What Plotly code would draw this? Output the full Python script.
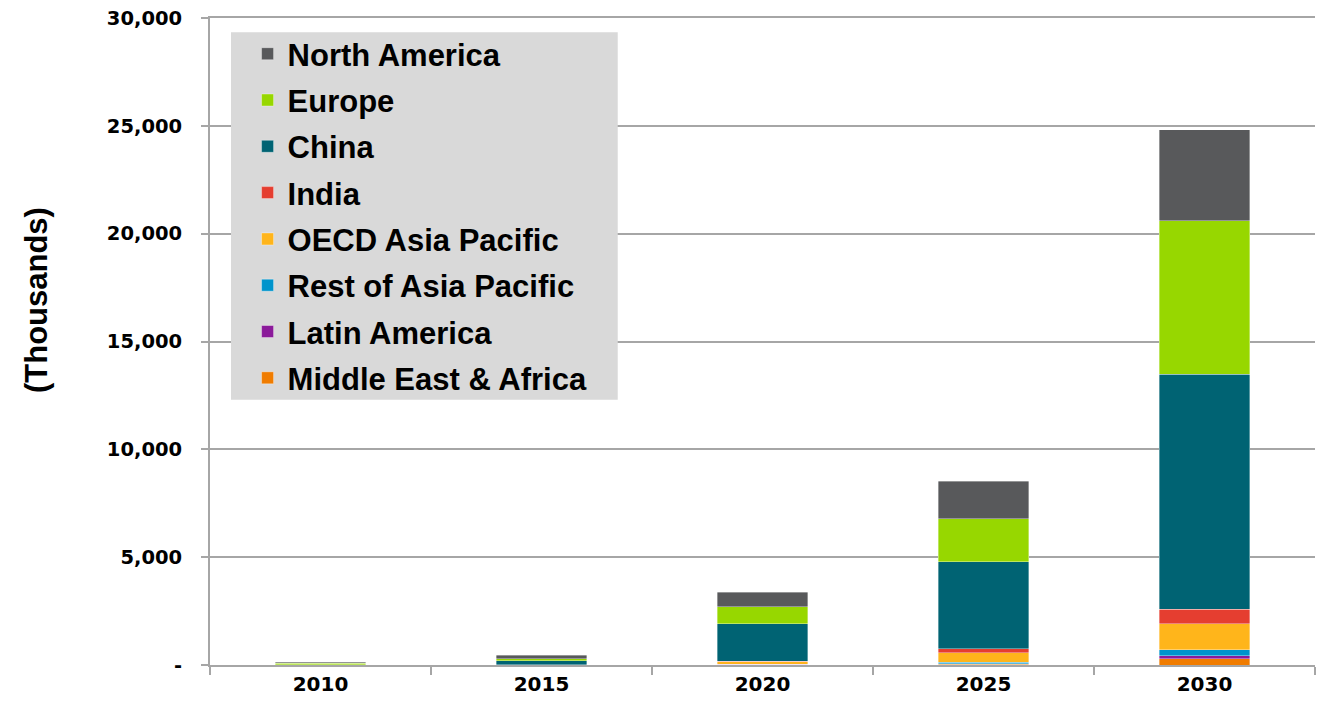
import plotly.graph_objects as go

years = ["2010", "2015", "2020", "2025", "2030"]

# stacked bottom to top
middle_east_africa = [2, 5, 20, 30, 280]
latin_america = [2, 3, 10, 20, 150]
rest_asia_pacific = [3, 5, 15, 80, 280]
oecd_asia_pacific = [3, 5, 110, 430, 1200]
india = [2, 5, 30, 200, 680]
china = [10, 180, 1730, 4030, 10900]
europe = [60, 90, 790, 2000, 7100]
north_america = [50, 170, 680, 1720, 4220]

series = [
    ("Middle East & Africa", middle_east_africa, "#f07c00"),
    ("Latin America", latin_america, "#8b1a9a"),
    ("Rest of Asia Pacific", rest_asia_pacific, "#0094cc"),
    ("OECD Asia Pacific", oecd_asia_pacific, "#ffb51b"),
    ("India", india, "#e53e30"),
    ("China", china, "#006373"),
    ("Europe", europe, "#97d700"),
    ("North America", north_america, "#58595b"),
]

y_ticks = [0, 5000, 10000, 15000, 20000, 25000, 30000]
y_labels = ["-", "5,000", "10,000", "15,000", "20,000", "25,000", "30,000"]

arial = "Arial, Liberation Sans, sans-serif"
wide = "DejaVu Sans, Verdana, sans-serif"

fig = go.Figure()
n = len(series)
for i, (name, vals, color) in enumerate(series):
    fig.add_trace(go.Bar(
        x=years, y=vals, name=name, legendgroup=str(i), legendrank=n - i,
        marker=dict(color=color, line=dict(color="rgba(255,255,255,0.45)", width=0.8)),
    ))

# grey box behind the legend
fig.add_shape(type="rect", xref="paper", yref="paper",
              x0=0.019, x1=0.369, y0=0.41, y1=0.978,
              fillcolor="#d9d9d9", line_width=0, layer="above")

# page body adds 8px, so the figure is 8px smaller on each side
fig.update_layout(
    barmode="stack",
    bargap=0.59,
    width=1322, height=699,
    margin=dict(l=202, r=15, t=10, b=42),
    plot_bgcolor="white",
    paper_bgcolor="white",
    font=dict(family=arial, color="black"),
    legend=dict(
        x=0.034, y=0.986, xanchor="left", yanchor="top",
        bgcolor="rgba(0,0,0,0)",
        traceorder="grouped",
        tracegroupgap=3,
        font=dict(size=31, weight="bold", family=arial),
        itemwidth=30,
    ),
    showlegend=True,
    annotations=[dict(
        text="(Thousands)", xref="paper", yref="paper",
        x=-0.1575, y=0.564, xanchor="center", yanchor="middle",
        textangle=-90, showarrow=False,
        font=dict(size=31, weight="bold", family=arial),
    )],
)

fig.update_xaxes(
    type="category", automargin=False,
    showline=True, mirror=True, linecolor="#a6a6a6", linewidth=2,
    ticks="outside", tickson="boundaries", ticklen=8, tickcolor="#a6a6a6", tickwidth=2,
    tickfont=dict(size=20, weight="bold", family=wide),
    showgrid=False,
)

fig.update_yaxes(
    range=[0, 30000], automargin=False,
    tickvals=y_ticks, ticktext=y_labels,
    showline=True, linecolor="#a6a6a6", linewidth=2,
    ticks="outside", ticklen=7, tickcolor="#a6a6a6", tickwidth=2,
    showgrid=True, gridcolor="#a6a6a6", gridwidth=2,
    zeroline=False,
    ticklabeloverflow="allow",
    tickfont=dict(size=19.5, weight="bold", family=wide),
    ticklabelstandoff=15,
)

fig.write_html("out.html")
